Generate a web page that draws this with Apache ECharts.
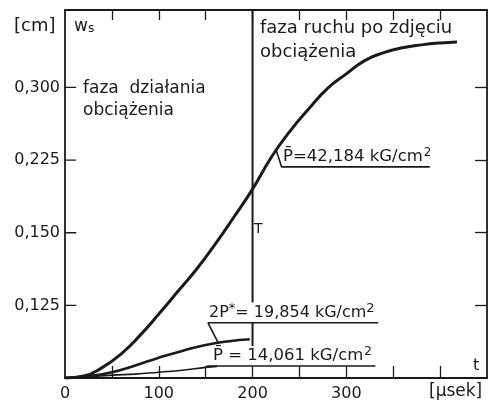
<!DOCTYPE html>
<html>
<head>
<meta charset="utf-8">
<script src="https://cdn.jsdelivr.net/npm/echarts@6/dist/echarts.min.js"></script>
<style>
  html, body { margin: 0; padding: 0; background: #fff; }
  #chart { width: 489px; height: 404px; }
</style>
</head>
<body>
<div id="chart"></div>
<script>
// czas [usek] i ugiecie w_s [cm]
var tMain = [0, 20, 40, 60, 80, 100, 120, 140, 160, 180, 200, 220, 240, 260, 280, 300, 320, 340, 360, 380, 400, 418];
var wMain = [0, 0.002, 0.011, 0.025, 0.044, 0.066, 0.089, 0.112, 0.138, 0.166, 0.195, 0.228, 0.255, 0.278, 0.299, 0.314, 0.328, 0.336, 0.341, 0.344, 0.346, 0.347];

var tMid = [0, 25, 50, 75, 100, 125, 150, 175, 197];
var wMid = [0, 0.002, 0.006, 0.013, 0.021, 0.028, 0.034, 0.038, 0.040];

var tLow = [0, 25, 50, 75, 100, 125, 150, 162];
var wLow = [0, 0.001, 0.003, 0.004, 0.006, 0.008, 0.011, 0.012];

// podpisy osi y tak jak wydrukowane
var yTicks = [0.075, 0.150, 0.225, 0.300];
var yTickLabels = ['0,125', '0,150', '0,225', '0,300'];
var xTicks = [50, 100, 150, 200, 250, 300, 350, 400];
var xTickLabels = [0, 100, 200, 300];

// odnosniki do opisow krzywych
var leadHigh = [[225, 0.236], [231, 0.218], [389, 0.218]];
var leadMid = [[163, 0.037], [152.5, 0.057], [334, 0.057]];
var leadLow = [[151, 0.0124], [331, 0.0124]];
var tauUpper = [[200, 0.38], [200, 0.078]];
var tauLower = [[200, 0.057], [200, 0.033]];

function zip(a, b) {
  return a.map(function (v, i) { return [v, b[i]]; });
}

var ink = '#1a1a1a';
var font = 'DejaVu Sans';

var chart = echarts.init(document.getElementById('chart'));

function thin(data, w) {
  return {
    type: 'line', data: data, showSymbol: false, silent: true,
    lineStyle: { color: ink, width: w || 1.5 }
  };
}

// lewe kreski podzialki (os lewa ich nie rysuje)
var leftTicks = yTicks.map(function (v) { return thin([[0, v], [12, v]], 1.3); });

var option = {
  backgroundColor: '#fff',
  animation: false,
  grid: { left: 65, right: 2, top: 10, bottom: 26 },
  xAxis: [{
    type: 'value', min: 0, max: 450,
    axisLine: { onZero: false, lineStyle: { color: ink, width: 1.8 } },
    axisTick: { inside: true, length: 12, customValues: xTicks, lineStyle: { color: ink, width: 1.3 } },
    splitLine: { show: false },
    axisLabel: {
      margin: 8, color: ink, fontFamily: font, fontSize: 16,
      customValues: xTickLabels
    }
  }, {
    type: 'value', min: 0, max: 450, position: 'top',
    axisLine: { onZero: false, lineStyle: { color: ink, width: 1.8 } },
    axisTick: { inside: true, length: 10, customValues: xTicks, lineStyle: { color: ink, width: 1.3 } },
    axisLabel: { show: false }, splitLine: { show: false }
  }],
  yAxis: [{
    type: 'value', min: 0, max: 0.38,
    axisLine: { show: true, onZero: false, lineStyle: { color: ink, width: 1.8 } },
    axisTick: { show: false },
    splitLine: { show: false },
    axisLabel: {
      margin: 5, color: ink, fontFamily: font, fontSize: 16,
      customValues: yTicks,
      formatter: function (v) {
        for (var i = 0; i < yTicks.length; i++) {
          if (Math.abs(v - yTicks[i]) < 1e-6) return yTickLabels[i];
        }
        return '';
      }
    }
  }, {
    type: 'value', min: 0, max: 0.38, position: 'right',
    axisLine: { show: true, onZero: false, lineStyle: { color: ink, width: 1.8 } },
    axisTick: { show: true, inside: true, length: 12, customValues: yTicks, lineStyle: { color: ink, width: 1.3 } },
    axisLabel: { show: false }, splitLine: { show: false }
  }],
  series: [
    {
      type: 'line', data: zip(tMain, wMain), smooth: true, showSymbol: false,
      lineStyle: { color: ink, width: 3 }
    },
    {
      type: 'line', data: zip(tMid, wMid), smooth: true, showSymbol: false,
      lineStyle: { color: ink, width: 2.6 }
    },
    {
      type: 'line', data: zip(tLow, wLow), smooth: true, showSymbol: false,
      lineStyle: { color: ink, width: 1.6 }
    },
    thin(leadHigh, 1.6),
    thin(leadMid, 1.6),
    thin(leadLow, 1.6),
    thin(tauUpper, 2),
    thin(tauLower, 2)
  ].concat(leftTicks),
  graphic: [
    { type: 'text', left: 14, top: 17, style: { text: '[cm]', font: '18px ' + font, fill: ink } },
    { type: 'text', left: 74, top: 18, style: {
      text: '{w|w}{s|s}', font: '16px ' + font, fill: ink,
      rich: { w: { fontSize: 17, fontFamily: font, verticalAlign: 'bottom' }, s: { fontSize: 12, fontFamily: font, padding: [6, 0, 0, 0] } }
    } },
    { type: 'text', left: 83, top: 78, style: {
      text: 'faza  działania\nobciążenia', font: '17px ' + font, fill: ink, lineHeight: 22
    } },
    { type: 'text', left: 260, top: 16, style: {
      text: 'faza ruchu po zdjęciu\nobciążenia', font: '18px ' + font, fill: ink, lineHeight: 24
    } },
    { type: 'text', left: 283, top: 147, style: {
      text: 'P\u0304=42,184 kG/cm{sup|2}', font: '16.5px ' + font, fill: ink,
      rich: { sup: { fontSize: 12, fontFamily: font, padding: [0, 0, 8, 1] } }
    } },
    { type: 'text', left: 209, top: 302, style: {
      text: '2P{sup|*}= 19,854 kG/cm{sup|2}', font: '16px ' + font, fill: ink,
      rich: { sup: { fontSize: 13, fontFamily: font, padding: [0, 0, 8, 0] } }
    } },
    { type: 'text', left: 213, top: 346, style: {
      text: 'P\u0304 = 14,061 kG/cm{sup|2}', font: '16.5px ' + font, fill: ink,
      rich: { sup: { fontSize: 12, fontFamily: font, padding: [0, 0, 8, 1] } }
    } },
    { type: 'text', left: 254, top: 222, style: { text: 'T', font: '14px ' + font, fill: ink } },
    { type: 'text', left: 473, top: 358, style: { text: 't', font: '16px ' + font, fill: ink } },
    { type: 'text', left: 429, top: 383, style: { text: '[μsek]', font: '17px ' + font, fill: ink } }
  ]
};

chart.setOption(option);
</script>
</body>
</html>
